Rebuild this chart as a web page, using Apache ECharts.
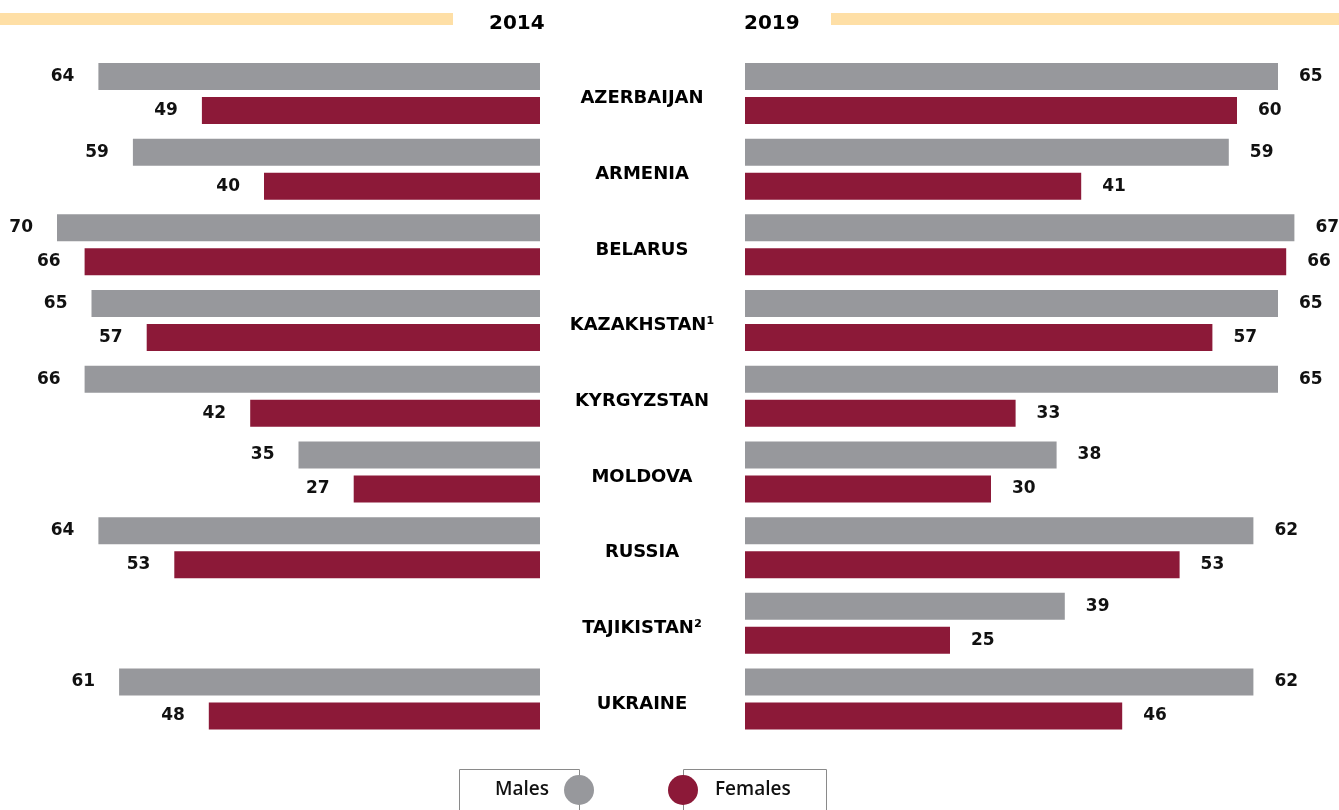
<!DOCTYPE html>
<html>
<head>
<meta charset="utf-8">
<script src="https://cdn.jsdelivr.net/npm/echarts@6/dist/echarts.min.js"></script>
<style>
html,body{margin:0;padding:0;background:#fff}
#main{width:1339px;height:810px}
</style>
</head>
<body>
<div id="main"></div>
<script>
var countries = ['AZERBAIJAN', 'ARMENIA', 'BELARUS', 'KAZAKHSTAN\u00b9', 'KYRGYZSTAN', 'MOLDOVA', 'RUSSIA', 'TAJIKISTAN\u00b2', 'UKRAINE']
var males2014 = [64, 59, 70, 65, 66, 35, 64, null, 61]
var females2014 = [49, 40, 66, 57, 42, 27, 53, null, 48]
var males2019 = [65, 59, 67, 65, 65, 38, 62, 39, 62]
var females2019 = [60, 41, 66, 57, 33, 30, 53, 25, 46]
var years = ['2014', '2019']

var grey = '#97989c'
var maroon = '#8c1938'
var font = 'DejaVu Sans'

var chart = echarts.init(document.getElementById('main'))

// 柱子标签
function lbl(pos, dist){
	return {
		show: true,
		position: pos,
		distance: dist,
		color: '#111',
		fontFamily: font,
		fontWeight: 'bold',
		fontSize: 17
	}
}

function bar(name, data, idx, pos, color){
	return {
		name: name,
		type: 'bar',
		xAxisIndex: idx,
		yAxisIndex: idx,
		data: data,
		barWidth: 27,
		barGap: '26%',
		itemStyle: { color: color },
		label: lbl(pos, pos == 'left' ? 24 : 21),
		emphasis: { disabled: true }
	}
}

var option = {
	animation: false,
	title: [
		{ text: years[0], left: 484, top: 9, textStyle: { fontFamily: font, fontWeight: 'bold', fontSize: 20, color: '#000' } },
		{ text: years[1], left: 739, top: 9, textStyle: { fontFamily: font, fontWeight: 'bold', fontSize: 20, color: '#000' } }
	],
	legend: [
		{
			data: ['Males'], left: 490, top: 770, align: 'right', icon: 'circle',
			itemWidth: 30, itemHeight: 30, selectedMode: false,
			textStyle: { fontFamily: 'Open Sans', fontWeight: 600, fontSize: 19, color: '#111', padding: [0, 10, 0, 0] }
		},
		{
			data: ['Females'], left: 663, top: 770, align: 'left', icon: 'circle',
			itemWidth: 30, itemHeight: 30, selectedMode: false,
			textStyle: { fontFamily: 'Open Sans', fontWeight: 600, fontSize: 19, color: '#111', padding: [0, 0, 0, 12] }
		}
	],
	graphic: [
		{ type: 'rect', shape: { x: 0, y: 13, width: 453, height: 12 }, style: { fill: '#fedfa6' }, silent: true },
		{ type: 'rect', shape: { x: 831, y: 13, width: 508, height: 12 }, style: { fill: '#fedfa6' }, silent: true },
		{ type: 'rect', shape: { x: 459.5, y: 769.5, width: 120, height: 60 }, style: { fill: 'none', stroke: '#8a8a8a', lineWidth: 1 }, silent: true },
		{ type: 'rect', shape: { x: 683.5, y: 769.5, width: 143, height: 60 }, style: { fill: 'none', stroke: '#8a8a8a', lineWidth: 1 }, silent: true }
	],
	grid: [
		{ left: 57, right: 799, top: 55.6, height: 681.3 },
		{ left: 745, right: 20, top: 55.6, height: 681.3 }
	],
	xAxis: [
		{ gridIndex: 0, type: 'value', min: 0, max: 70, inverse: true, show: false },
		{ gridIndex: 1, type: 'value', min: 0, max: 70, show: false }
	],
	yAxis: [
		{ gridIndex: 0, type: 'category', data: countries, inverse: true, show: false },
		{
			gridIndex: 1, type: 'category', data: countries, inverse: true,
			axisLine: { show: false }, axisTick: { show: false },
			axisLabel: {
				margin: 103, align: 'center',
				formatter: function(v){ return '{c|' + v + '}' },
				rich: {
					c: { padding: [10, 0, 0, 0], fontFamily: font, fontWeight: 'bold', fontSize: 18, color: '#000' }
				}
			}
		}
	],
	series: [
		bar('Males', males2014, 0, 'left', grey),
		bar('Females', females2014, 0, 'left', maroon),
		bar('Males', males2019, 1, 'right', grey),
		bar('Females', females2019, 1, 'right', maroon)
	]
}
chart.setOption(option)
</script>
</body>
</html>
